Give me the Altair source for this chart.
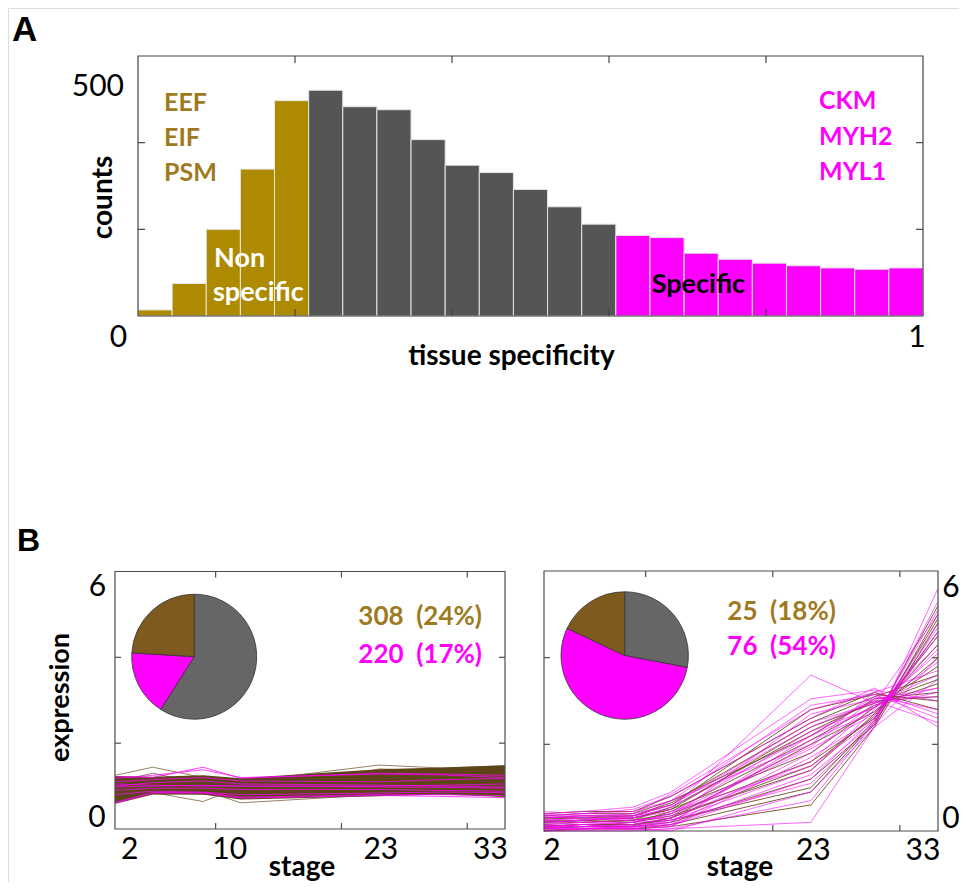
import altair as alt
import pandas as pd

# ---------------- Panel A: histogram of tissue specificity ----------------
hist_counts = [14, 75, 200, 339, 497, 521, 483, 476, 407, 348, 331, 292,
               252, 212, 186, 181, 145, 131, 122, 116, 111, 108, 111]
hist_groups = ["non"] * 5 + ["mid"] * 9 + ["spec"] * 9
hist_yticks = [200, 400]
hist_xticks = [0.2, 0.4, 0.6, 0.8]

# ---------------- Panel B: expression profiles ----------------
stages = [2, 5, 9, 12, 23, 28, 33]
b_yticks = [2, 4]
b_xticks = [10, 20, 30]

left_brown_core = [
    [1.20, 1.18, 1.22, 1.15, 1.36, 1.40, 1.45],
    [1.16, 1.17, 1.18, 1.12, 1.31, 1.36, 1.42],
    [1.12, 1.14, 1.14, 1.10, 1.27, 1.32, 1.38],
    [1.08, 1.12, 1.10, 1.08, 1.23, 1.28, 1.34],
    [1.04, 1.10, 1.06, 1.05, 1.19, 1.24, 1.30],
    [1.00, 1.07, 1.03, 1.02, 1.15, 1.20, 1.26],
    [0.96, 1.04, 1.00, 0.99, 1.11, 1.16, 1.22],
    [0.92, 1.01, 0.97, 0.96, 1.07, 1.12, 1.17],
    [0.88, 0.98, 0.94, 0.93, 1.03, 1.08, 1.12],
    [0.84, 0.95, 0.92, 0.90, 0.99, 1.04, 1.07],
    [0.80, 0.92, 0.90, 0.87, 0.95, 1.00, 1.02],
    [0.76, 0.90, 0.88, 0.84, 0.91, 0.96, 0.97],
    [0.72, 0.88, 0.86, 0.80, 0.88, 0.92, 0.92],
    [0.68, 0.86, 0.85, 0.77, 0.85, 0.88, 0.87],
    [0.65, 0.85, 0.84, 0.74, 0.82, 0.85, 0.82],
    [0.62, 0.84, 0.84, 0.72, 0.80, 0.84, 0.78],
]
left_brown_thin = [
    [1.25, 1.44, 1.20, 1.10, 1.49, 1.42, 1.47],
    [0.62, 0.85, 0.64, 0.98, 0.80, 0.84, 0.82],
    [0.65, 0.88, 0.90, 0.61, 0.80, 0.85, 0.80],
    [1.10, 1.30, 1.05, 0.70, 1.40, 1.35, 1.30],
]
left_magenta = [
    [1.22, 1.20, 1.44, 1.18, 1.30, 1.28, 1.25],
    [1.18, 1.25, 1.38, 1.20, 1.28, 1.26, 1.20],
    [0.62, 0.85, 0.85, 0.74, 0.80, 0.80, 0.78],
    [0.60, 0.84, 0.84, 0.72, 0.78, 0.76, 0.73],
    [0.98, 1.00, 1.02, 1.00, 1.00, 1.02, 1.05],
    [1.05, 1.02, 1.00, 1.00, 0.98, 0.97, 0.95],
    [0.90, 0.95, 0.95, 0.92, 0.92, 0.90, 0.88],
    [1.10, 1.15, 1.20, 1.12, 1.10, 1.15, 1.18],
    [0.80, 0.88, 0.86, 0.80, 0.84, 0.86, 0.85],
    [1.00, 1.08, 1.12, 1.05, 1.02, 1.00, 0.98],
]
right_brown = [
    [0.30, 0.35, 0.35, 0.60, 2.80, 3.15, 3.00],
    [0.20, 0.25, 0.30, 0.50, 2.40, 2.95, 3.50],
    [0.10, 0.15, 0.15, 0.30, 2.00, 2.75, 4.00],
    [0.25, 0.20, 0.25, 0.40, 1.60, 2.60, 4.60],
    [0.05, 0.10, 0.10, 0.20, 1.20, 2.45, 5.00],
    [0.35, 0.40, 0.40, 0.70, 2.20, 3.05, 3.20],
    [0.15, 0.10, 0.20, 0.35, 1.40, 2.70, 4.30],
    [0.00, 0.05, 0.05, 0.10, 0.60, 2.40, 4.80],
    [0.28, 0.30, 0.30, 0.50, 1.80, 2.85, 3.80],
    [0.40, 0.45, 0.45, 0.80, 2.60, 3.20, 2.80],
    [0.12, 0.15, 0.15, 0.25, 1.00, 2.55, 5.20],
    [0.22, 0.25, 0.20, 0.45, 2.10, 2.90, 3.40],
    [0.18, 0.20, 0.25, 0.55, 2.30, 3.00, 3.10],
    [0.08, 0.10, 0.12, 0.30, 1.50, 2.65, 4.50],
    [0.32, 0.30, 0.35, 0.65, 2.50, 3.10, 3.60],
    [0.02, 0.05, 0.05, 0.15, 0.90, 2.50, 4.90],
]
right_magenta = [
    [0.30, 0.35, 0.35, 0.50, 3.60, 2.95, 3.30],
    [0.02, 0.02, 0.03, 0.05, 0.20, 2.40, 5.60],
    [0.40, 0.45, 0.55, 0.90, 3.05, 3.25, 3.00],
    [0.20, 0.25, 0.30, 0.70, 2.90, 3.15, 2.60],
    [0.10, 0.10, 0.15, 0.30, 2.70, 3.05, 3.10],
    [0.35, 0.30, 0.40, 0.60, 2.50, 2.95, 3.60],
    [0.15, 0.20, 0.20, 0.40, 2.30, 2.85, 3.90],
    [0.05, 0.05, 0.10, 0.20, 2.10, 2.75, 4.20],
    [0.25, 0.20, 0.25, 0.35, 1.90, 2.70, 4.50],
    [0.00, 0.05, 0.05, 0.10, 1.70, 2.60, 4.80],
    [0.30, 0.35, 0.30, 0.45, 1.50, 2.55, 5.10],
    [0.10, 0.10, 0.10, 0.15, 1.30, 2.50, 5.30],
    [0.20, 0.15, 0.20, 0.25, 1.10, 2.45, 4.00],
    [0.05, 0.10, 0.05, 0.00, 0.90, 2.40, 3.50],
    [0.45, 0.40, 0.50, 0.80, 2.60, 3.30, 2.40],
    [0.15, 0.10, 0.15, 0.20, 2.20, 3.10, 2.80],
    [0.25, 0.30, 0.25, 0.30, 1.60, 2.90, 3.20],
    [0.00, 0.00, 0.00, 0.05, 0.70, 2.50, 4.60],
    [0.35, 0.40, 0.45, 0.70, 2.00, 3.20, 3.70],
    [0.10, 0.15, 0.10, 0.25, 1.40, 2.80, 4.30],
    [0.20, 0.25, 0.35, 0.60, 2.40, 3.00, 2.50],
    [0.05, 0.05, 0.10, 0.15, 1.80, 2.95, 5.00],
    [0.28, 0.25, 0.30, 0.55, 2.20, 2.85, 4.10],
    [0.12, 0.15, 0.20, 0.40, 1.95, 3.05, 3.30],
    [0.38, 0.35, 0.40, 0.85, 2.80, 3.20, 2.70],
    [0.08, 0.05, 0.08, 0.12, 1.20, 2.60, 4.70],
]

pie_groups = ["other", "specific", "nonspecific"]
left_pie = [59, 17, 24]
right_pie = [28, 54, 18]

OLIVE = "#AD8A00"
DGRAY = "#555555"
MAG = "#FF00FF"
TBROWN = "#9E7A1E"
PBROWN = "#7F5A1E"
PGRAY = "#666666"
FONT = "Lato"
NB = "\u00a0\u00a0"

# ---------------- scales (absolute placement inside one canvas) ----------------
AX = alt.Scale(domain=[0, 1], range=[130, 915], nice=False, zero=False)
AY = alt.Scale(domain=[0, 600], range=[308, 48], nice=False, zero=False)
LX = alt.Scale(domain=[2, 33], range=[107, 497], nice=False, zero=False)
LY = alt.Scale(domain=[0, 6], range=[821, 563.5], nice=False, zero=False)
RX = alt.Scale(domain=[2, 33], range=[536, 930], nice=False, zero=False)
RY = alt.Scale(domain=[0, 6], range=[823, 563], nice=False, zero=False)

layers = []

# ---- histogram bars
n = len(hist_counts)
hist_df = pd.DataFrame({
    "x0": [i / n for i in range(n)],
    "x1": [(i + 1) / n for i in range(n)],
    "count": hist_counts,
    "base": [0] * n,
    "grp": hist_groups,
})
layers.append(
    alt.Chart(hist_df).mark_bar(stroke="#E6E6E6", strokeWidth=1).encode(
        x=alt.X("x0:Q", scale=AX, axis=None),
        x2="x1:Q",
        y=alt.Y("count:Q", scale=AY, axis=None),
        y2="base:Q",
        color=alt.Color("grp:N", scale=alt.Scale(domain=["non", "mid", "spec"],
                                                 range=[OLIVE, DGRAY, MAG]), legend=None),
    )
)


def frame(xs, ys, x0, x1, y0, y1, color="#4D4D4D"):
    df = pd.DataFrame({"a": [x0], "b": [x1], "c": [y0], "d": [y1]})
    return alt.Chart(df).mark_rect(fillOpacity=0, stroke=color, strokeWidth=1.2).encode(
        x=alt.X("a:Q", scale=xs, axis=None), x2="b:Q",
        y=alt.Y("c:Q", scale=ys, axis=None), y2="d:Q")


def ticks(xs, ys, xt, yt, x0, x1, y0, y1, L=7, color="#4D4D4D"):
    out = []
    dfx = pd.DataFrame({"v": xt})
    out.append(alt.Chart(dfx).mark_rule(color=color, strokeWidth=1.2, y2Offset=-L).encode(
        x=alt.X("v:Q", scale=xs, axis=None), y=alt.Y("p:Q", scale=ys, axis=None), y2="p:Q"
    ).transform_calculate(p=str(y0)))
    out.append(alt.Chart(dfx).mark_rule(color=color, strokeWidth=1.2, y2Offset=L).encode(
        x=alt.X("v:Q", scale=xs, axis=None), y=alt.Y("p:Q", scale=ys, axis=None), y2="p:Q"
    ).transform_calculate(p=str(y1)))
    dfy = pd.DataFrame({"v": yt})
    out.append(alt.Chart(dfy).mark_rule(color=color, strokeWidth=1.2, x2Offset=L).encode(
        y=alt.Y("v:Q", scale=ys, axis=None), x=alt.X("p:Q", scale=xs, axis=None), x2="p:Q"
    ).transform_calculate(p=str(x0)))
    out.append(alt.Chart(dfy).mark_rule(color=color, strokeWidth=1.2, x2Offset=-L).encode(
        y=alt.Y("v:Q", scale=ys, axis=None), x=alt.X("p:Q", scale=xs, axis=None), x2="p:Q"
    ).transform_calculate(p=str(x1)))
    return out


layers.append(frame(AX, AY, 0, 1, 0, 600, "#444444"))
layers += ticks(AX, AY, hist_xticks, hist_yticks, 0, 1, 0, 600, L=7, color="#444444")


def lines_df(rows, prefix):
    recs = []
    for i, r in enumerate(rows):
        for s, v in zip(stages, r):
            recs.append({"id": f"{prefix}{i}", "stage": s, "expr": v})
    return pd.DataFrame(recs)


def lines(rows, prefix, xs, ys, color, width, opacity):
    return alt.Chart(lines_df(rows, prefix)).mark_line(
        color=color, strokeWidth=width, opacity=opacity).encode(
        x=alt.X("stage:Q", scale=xs, axis=None),
        y=alt.Y("expr:Q", scale=ys, axis=None),
        detail="id:N",
    )


# ---- left expression panel
layers.append(lines(left_brown_thin, "lbt", LX, LY, "#8C7350", 1, 0.9))
layers.append(lines(left_brown_core, "lbc", LX, LY, "#5E4518", 3, 1))
layers.append(lines(left_magenta, "lm", LX, LY, MAG, 1, 0.75))
layers.append(frame(LX, LY, 2, 33, 0, 6))
layers += ticks(LX, LY, b_xticks, b_yticks, 2, 33, 0, 6, L=6)

# ---- right expression panel
layers.append(lines(right_brown, "rb", RX, RY, "#6E5020", 1, 0.9))
layers.append(lines(right_magenta, "rm", RX, RY, MAG, 1, 0.6))
layers.append(frame(RX, RY, 2, 33, 0, 6))
layers += ticks(RX, RY, b_xticks, b_yticks, 2, 33, 0, 6, L=6)


# ---- pies
def pie(vals, cx, cy, r):
    df = pd.DataFrame({"grp": pie_groups, "val": vals, "ord": [0, 1, 2]})
    return alt.Chart(df).mark_arc(radius=r, stroke="#333333", strokeWidth=0.8).encode(
        theta=alt.Theta("val:Q", stack=True),
        order=alt.Order("ord:Q"),
        color=alt.Color("grp:N", scale=alt.Scale(domain=pie_groups, range=[PGRAY, MAG, PBROWN]),
                        legend=None),
        x=alt.value(cx), y=alt.value(cy),
    )


layers.append(pie(left_pie, 186.2, 648.7, 62.5))
layers.append(pie(right_pie, 616.7, 647.5, 63.7))


# ---- text annotations
def txt(label, x, y, size, color="black", bold=False, align="left", angle=0, font=FONT,
        baseline="alphabetic"):
    df = pd.DataFrame({"t": [label]})
    kw = dict(fontSize=size, color=color, font=font, align=align, baseline=baseline)
    if bold:
        kw["fontWeight"] = "bold"
    if angle:
        kw["angle"] = angle
    return alt.Chart(df).mark_text(**kw).encode(text="t:N", x=alt.value(x), y=alt.value(y))


layers += [
    txt("A", 4, 33, 35, bold=True, font="Liberation Sans"),
    txt("B", 9, 543, 32, bold=True, font="Liberation Sans"),
    txt("500", 116, 88, 30, align="right"),
    txt("0", 110.5, 339, 30, align="center"),
    txt("1", 909, 339, 30, align="center"),
    txt("counts", 96, 189.5, 28, bold=True, angle=270, align="center", baseline="middle"),
    txt("tissue specificity", 503.5, 357, 28, bold=True, align="center"),
    txt("EEF", 156, 103, 25, TBROWN, bold=True),
    txt("EIF", 156, 138, 25, TBROWN, bold=True),
    txt("PSM", 156, 173, 25, TBROWN, bold=True),
    txt("Non", 206, 259, 27, "white", bold=True),
    txt("specific", 205, 293, 27, "white", bold=True),
    txt("Specific", 643.7, 285.3, 27, "black", bold=True),
    txt("CKM", 811, 101, 25, MAG, bold=True),
    txt("MYH2", 811, 137, 25, MAG, bold=True),
    txt("MYL1", 811, 172, 25, MAG, bold=True),
    # panel B left
    txt("6", 89.5, 588, 30, align="center"),
    txt("0", 89, 819, 30, align="center"),
    txt("expression", 53, 689.5, 27, bold=True, angle=270, align="center", baseline="middle"),
    txt("2", 121.7, 851, 30, align="center"),
    txt("10", 221.7, 851, 30, align="center"),
    txt("23", 372.8, 851, 30, align="center"),
    txt("33", 482.5, 851, 30, align="center"),
    txt("stage", 294, 868, 28, bold=True, align="center"),
    txt("308" + NB + "(24%)", 350.3, 617, 26, TBROWN, bold=True),
    txt("220" + NB + "(17%)", 350.3, 655, 26, MAG, bold=True),
    # panel B right
    txt("6", 943, 589, 30, align="center"),
    txt("0", 943, 820, 30, align="center"),
    txt("2", 544, 852, 30, align="center"),
    txt("10", 653.7, 852, 30, align="center"),
    txt("23", 805.3, 852, 30, align="center"),
    txt("33", 915, 852, 30, align="center"),
    txt("stage", 732, 868, 28, bold=True, align="center"),
    txt("25" + NB + "(18%)", 719.3, 612, 26, TBROWN, bold=True),
    txt("76" + NB + "(54%)", 719.3, 647, 26, MAG, bold=True),
]

chart = alt.layer(*layers).resolve_scale(
    x="independent", y="independent", color="independent", theta="independent"
).properties(
    width=951, height=874, padding=0, autosize=alt.AutoSizeParams(type="none")
).configure_view(strokeWidth=0, strokeOpacity=0).configure(background="white")

chart.save("out.html", embed_options={"renderer": "svg", "actions": False})
